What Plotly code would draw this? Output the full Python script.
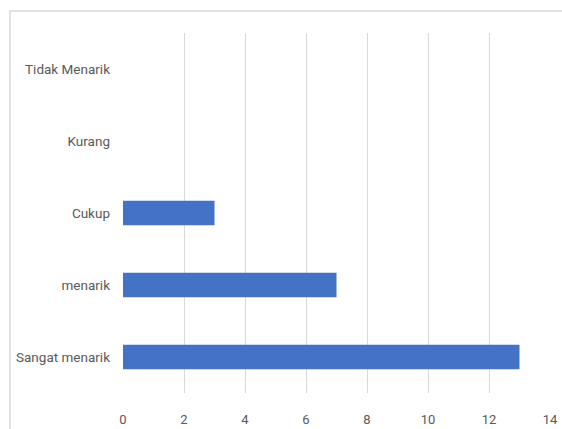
import plotly.graph_objects as go

categories = ["Sangat menarik", "menarik", "Cukup", "Kurang", "Tidak Menarik"]
values = [13, 7, 3, 0, 0]
x_ticks = [0, 2, 4, 6, 8, 10, 12, 14]

fig = go.Figure(go.Bar(
    y=categories, x=values, orientation="h",
    marker=dict(color="#4472C4", line=dict(width=0)),
))

font_family = "Roboto, Open Sans, sans-serif"

fig.update_layout(
    width=562, height=429,
    margin=dict(l=123, r=12, t=33, b=36, autoexpand=False),
    paper_bgcolor="white", plot_bgcolor="white",
    bargap=0.66,
    showlegend=False,
    font=dict(family=font_family, size=13, color="#595959"),
    xaxis=dict(
        range=[0, 14], tickvals=x_ticks, showgrid=True, gridcolor="#d9d9d9",
        gridwidth=1, zeroline=False, showline=False, ticks="",
        ticklabelstandoff=17, tickfont=dict(size=13, color="#595959"),
        fixedrange=True, automargin=False,
    ),
    yaxis=dict(
        categoryorder="array", categoryarray=categories,
        showgrid=False, zeroline=False, showline=False, ticks="",
        ticklabelstandoff=12, tickfont=dict(size=13.5, color="#595959"),
        fixedrange=True, automargin=False,
    ),
    shapes=[dict(
        type="rect", xref="paper", yref="paper",
        x0=(10 - 123) / 427, x1=1.2, y0=-0.3, y1=(393 - 11) / 360,
        line=dict(color="#d9d9d9", width=1.5), fillcolor="rgba(0,0,0,0)",
        layer="below",
    )],
)

fig.write_html("out.html")
